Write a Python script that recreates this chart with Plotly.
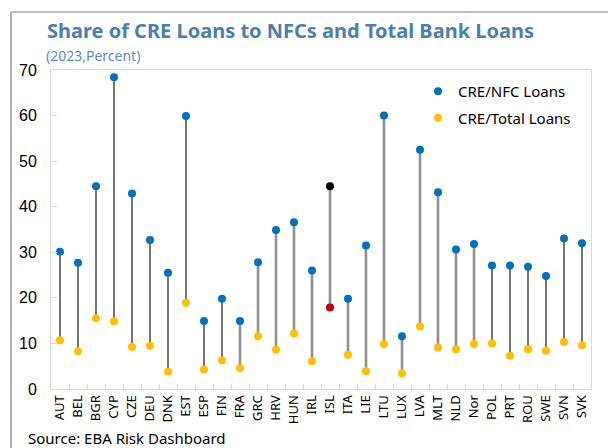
import plotly.graph_objects as go

countries = ["AUT","BEL","BGR","CYP","CZE","DEU","DNK","EST","ESP","FIN","FRA","GRC","HRV","HUN","IRL",
             "ISL","ITA","LIE","LTU","LUX","LVA","MLT","NLD","Nor","POL","PRT","ROU","SWE","SVN","SVK"]
cre_nfc = [30.1, 27.7, 44.5, 68.4, 42.9, 32.7, 25.5, 59.9, 14.9, 19.8, 14.9, 27.8, 34.9, 36.6, 26.0,
           44.5, 19.8, 31.5, 60.0, 11.6, 52.5, 43.2, 30.6, 31.8, 27.1, 27.1, 26.8, 24.8, 33.0, 32.0]
cre_total = [10.7, 8.3, 15.5, 14.8, 9.2, 9.5, 3.8, 18.9, 4.3, 6.3, 4.6, 11.6, 8.6, 12.2, 6.1,
             17.9, 7.5, 3.9, 9.8, 3.4, 13.7, 9.1, 8.7, 9.9, 10.0, 7.3, 8.7, 8.4, 10.3, 9.6]
gray_group = ["FRA","GRC","HRV","HUN","IRL","ISL","ITA","LIE","LTU","LUX","LVA","MLT","NLD","Nor"]
highlight = "ISL"
y_ticks = [0, 10, 20, 30, 40, 50, 60, 70]

BLUE = "#0070C0"
YELLOW = "#FFC000"

fig = go.Figure()

def seg(group):
    xs, ys = [], []
    for c, hi, lo in zip(countries, cre_nfc, cre_total):
        if (c in gray_group) == group:
            xs += [c, c, None]
            ys += [lo, hi, None]
    return xs, ys

xs, ys = seg(False)
fig.add_trace(go.Scatter(x=xs, y=ys, mode="lines", line=dict(color="#1a1a1a", width=1.2),
                         showlegend=False, hoverinfo="skip"))
xs, ys = seg(True)
fig.add_trace(go.Scatter(x=xs, y=ys, mode="lines", line=dict(color="#909090", width=2.6),
                         showlegend=False, hoverinfo="skip"))

nfc_colors = ["#000000" if c == highlight else BLUE for c in countries]
tot_colors = ["#C00000" if c == highlight else YELLOW for c in countries]

fig.add_trace(go.Scatter(x=countries, y=cre_nfc, mode="markers", name="CRE/NFC Loans",
                         legendgroup="a", marker=dict(color=nfc_colors, size=8)))
fig.add_trace(go.Scatter(x=countries, y=cre_total, mode="markers", name="CRE/Total Loans",
                         legendgroup="b", marker=dict(color=tot_colors, size=8)))

W, H = 608, 448
L, R, T, B = 51, 17, 70, 59
pw, ph = W - L - R, H - T - B
def px(x): return (x - L) / pw
def py(y): return (H - B - y) / ph

fig.update_layout(
    width=W, height=H,
    margin=dict(l=L, r=R, t=T, b=B, autoexpand=False),
    plot_bgcolor="white", paper_bgcolor="white",
    font=dict(family="Noto Sans", color="black"),
    showlegend=True,
    legend=dict(x=px(418), y=py(75), xanchor="left", yanchor="top",
                font=dict(family="Noto Sans", size=15, color="black"),
                bgcolor="rgba(0,0,0,0)", traceorder="grouped", tracegroupgap=4),
    xaxis=dict(type="category", categoryorder="array", categoryarray=countries,
               range=[-0.5, len(countries) - 0.5], automargin=False,
               showline=True, mirror=True, linecolor="#d9d9d9", linewidth=1,
               showgrid=False, ticks="inside", tickson="boundaries", ticklen=5, tickcolor="#d9d9d9",
               tickangle=-90, tickfont=dict(family="Noto Sans", size=13, color="black")),
    yaxis=dict(range=[0, 70], tickvals=y_ticks, showline=True, mirror=True, linecolor="#d9d9d9",
               showgrid=False, zeroline=False, ticks="inside", ticklen=6, tickcolor="#d9d9d9",
               automargin=False,
               tickfont=dict(family="Liberation Sans", size=16, color="black"),
               ticklabelstandoff=10),
    shapes=[
        dict(type="line", xref="paper", yref="paper", x0=px(11), x1=px(620), y0=py(12), y1=py(12),
             line=dict(color="#7f7f7f", width=1.2)),
        dict(type="line", xref="paper", yref="paper", x0=px(11), x1=px(11), y0=py(12), y1=py(460),
             line=dict(color="#7f7f7f", width=1.2)),
    ],
    annotations=[
        dict(text="<b>Share of CRE Loans to NFCs and Total Bank Loans</b>", xref="paper", yref="paper",
             x=px(45), y=py(31), xanchor="left", yanchor="middle", showarrow=False,
             font=dict(family="Noto Sans", size=20, color="#4a7fb3")),
        dict(text="(2023,Percent)", xref="paper", yref="paper",
             x=px(44), y=py(55), xanchor="left", yanchor="middle", showarrow=False,
             font=dict(family="Noto Sans", size=14, color="#5b8ec4")),
        dict(text="Source: EBA Risk Dashboard", xref="paper", yref="paper",
             x=px(26), y=py(426), xanchor="left", yanchor="top", showarrow=False,
             font=dict(family="Noto Sans", size=15, color="black")),
    ],
)

fig.write_html("out.html", config={"displayModeBar": False},
               post_script="document.body.style.margin='0px';")
